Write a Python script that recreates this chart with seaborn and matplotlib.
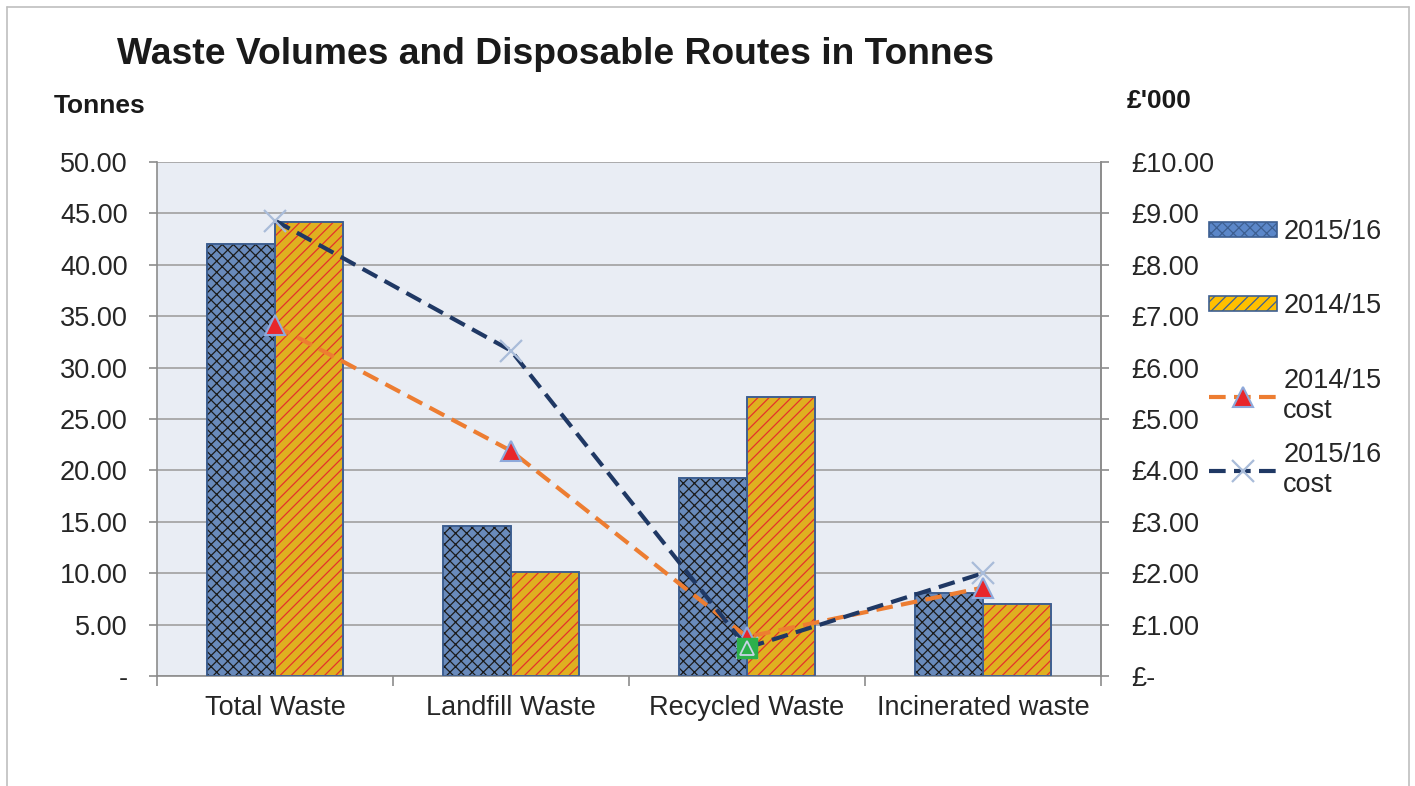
import numpy as np
import pandas as pd
import matplotlib
matplotlib.use("Agg")
import matplotlib.pyplot as plt
from matplotlib.lines import Line2D
from matplotlib.patches import Rectangle, Patch
import seaborn as sns

categories = ["Total Waste", "Landfill Waste", "Recycled Waste", "Incinerated waste"]
tonnes_1516 = [42.0, 14.6, 19.3, 8.1]
tonnes_1415 = [44.2, 10.1, 27.1, 7.0]
cost_1415 = [6.82, 4.38, 0.76, 1.72]
cost_1516 = [8.86, 6.33, 0.55, 2.00]
left_ticks = [0, 5, 10, 15, 20, 25, 30, 35, 40, 45, 50]
right_ticks = [0, 1, 2, 3, 4, 5, 6, 7, 8, 9, 10]

sns.set_theme(style="white")
plt.rcParams["font.family"] = ["Liberation Sans", "DejaVu Sans"]
plt.rcParams["hatch.linewidth"] = 0.9
text_col = "#262626"
fs = 19.5

fig = plt.figure(figsize=(14.15, 7.86), dpi=100)
ax = fig.add_axes([157 / 1415, 110 / 786, 944 / 1415, 514 / 786])
ax.set_facecolor("#E9EDF4")

df = pd.DataFrame({
    "category": categories * 2,
    "year": ["2015/16"] * 4 + ["2014/15"] * 4,
    "tonnes": tonnes_1516 + tonnes_1415,
})
sns.barplot(data=df, x="category", y="tonnes", hue="year", order=categories,
            hue_order=["2015/16", "2014/15"], palette=["#5B87C9", "#FFC000"],
            width=0.58, gap=0, edgecolor="#3D5F91", linewidth=1.2,
            ax=ax, legend=False, zorder=2)

# hatch overlays (different hatch colour from the outline)
hatch_spec = {"2015/16": ("xxx", "#1b1b1b"), "2014/15": ("///", "#E5322B")}
years = ["2015/16"] * 4 + ["2014/15"] * 4
for bar, yr in zip(list(ax.patches), years):
    h, c = hatch_spec[yr]
    ax.add_patch(Rectangle(bar.get_xy(), bar.get_width(), bar.get_height(),
                           facecolor="none", edgecolor=c, lw=0, hatch=h, zorder=2.5))
    ax.add_patch(Rectangle(bar.get_xy(), bar.get_width(), bar.get_height(),
                           facecolor="none", edgecolor="#3D5F91", lw=1.2, zorder=2.6))

ax.set_ylim(0, 50)
ax.set_xlim(-0.5, 3.5)
ax.set_yticks(left_ticks)
ax.set_yticklabels(["-"] + [f"{v:.2f}" for v in left_ticks[1:]])
ax.yaxis.grid(True, color="#A6A6A6", lw=1.3, zorder=0)
ax.set_axisbelow(True)
ax.set_xlabel("")
ax.set_ylabel("")
ax.set_xticks(range(len(categories)))
ax.set_xticklabels(categories)
ax.set_xticks(np.arange(len(categories) + 1) - 0.5, minor=True)
ax.tick_params(axis="x", which="major", length=0, labelsize=fs, labelcolor=text_col, pad=14)
ax.tick_params(axis="x", which="minor", length=7, width=1.2, color="#8C8C8C", direction="out", bottom=True)
ax.tick_params(axis="y", length=6, width=1.2, color="#8C8C8C", direction="out", left=True,
               labelsize=fs, labelcolor=text_col, pad=15)
ax.spines["top"].set_visible(False)
for side in ["left", "bottom", "right"]:
    ax.spines[side].set_color("#8C8C8C")
    ax.spines[side].set_linewidth(1.2)

ax2 = ax.twinx()
xpos = list(range(len(categories)))
sns.lineplot(x=xpos, y=cost_1415, ax=ax2, color="#ED7D31", lw=3, dashes=False,
             linestyle=(0, (4, 2)), marker="^", markersize=14, markerfacecolor="#E8262B",
             markeredgecolor="#8EA9DB", markeredgewidth=1.5, zorder=4)
sns.lineplot(x=xpos, y=cost_1516, ax=ax2, color="#1F3864", lw=3, dashes=False,
             linestyle=(0, (4, 2)), marker="x", markersize=16, markeredgecolor="#A9BCD9",
             markeredgewidth=1.6, zorder=5)
# highlighted recycled point
ax2.plot(xpos[2], cost_1516[2], marker="s", markersize=15, color="#2DB04B",
         markeredgecolor="#2DB04B", zorder=6)
ax2.plot(xpos[2], cost_1516[2], marker="^", markersize=10, color="none",
         markeredgecolor="#C9D4E6", markeredgewidth=1.3, zorder=7)
ax2.set_ylim(0, 10)
ax2.set_yticks(right_ticks)
ax2.set_yticklabels(["£-"] + [f"£{v:.2f}" for v in right_ticks[1:]])
ax2.tick_params(axis="y", length=6, width=1.2, color="#8C8C8C", direction="out", right=True,
                labelsize=fs, labelcolor=text_col, pad=16)
ax2.set_ylabel("")
for side in ["top", "left", "bottom"]:
    ax2.spines[side].set_visible(False)
ax2.spines["right"].set_color("#8C8C8C")
ax2.spines["right"].set_linewidth(1.2)

handles = [
    Patch(facecolor="#5B87C9", edgecolor="#3D5F91", hatch="xxx", lw=1.2),
    Patch(facecolor="#FFC000", edgecolor="#3D5F91", hatch="///", lw=1.2),
    Line2D([], [], color="#ED7D31", lw=3, linestyle=(0, (4, 2)), marker="^", markersize=14,
           markerfacecolor="#E8262B", markeredgecolor="#8EA9DB", markeredgewidth=1.5),
    Line2D([], [], color="#1F3864", lw=3, linestyle=(0, (4, 2)), marker="x", markersize=16,
           markeredgecolor="#A9BCD9", markeredgewidth=1.6),
]
labels = ["2015/16", "2014/15", "2014/15\ncost", "2015/16\ncost"]
entry_top = [219, 293, 368, 442]
for hnd, lab, top in zip(handles, labels, entry_top):
    leg = fig.legend([hnd], [lab], loc="upper left", bbox_to_anchor=(1209 / 1415, 1 - top / 786),
                     frameon=False, fontsize=fs, handlelength=2.5, handleheight=0.5,
                     handletextpad=0.24, borderpad=0, borderaxespad=0)
    for t in leg.get_texts():
        t.set_color(text_col)
        t.set_linespacing(1.2)

fig.text(117 / 1415, 1 - 55 / 786, "Waste Volumes and Disposable Routes in Tonnes",
         fontsize=26.8, fontweight="bold", color="#1a1a1a", va="center", ha="left")
fig.text(54 / 1415, 1 - 106 / 786, "Tonnes", fontsize=19, fontweight="bold",
         color="#1a1a1a", va="center", ha="left")
fig.text(1127 / 1415, 1 - 101 / 786, "£'000", fontsize=19, fontweight="bold",
         color="#1a1a1a", va="center", ha="left")

# outer chart frame
fx0, fx1, fy1 = 7 / 1415, 1409 / 1415, 1 - 7 / 786
fig.add_artist(Line2D([fx0, fx0], [0, fy1], color="#BFBFBF", lw=1.2))
fig.add_artist(Line2D([fx0, fx1], [fy1, fy1], color="#BFBFBF", lw=1.2))
fig.add_artist(Line2D([fx1, fx1], [0, fy1], color="#BFBFBF", lw=1.2))

fig.savefig("out.png", dpi=100)
